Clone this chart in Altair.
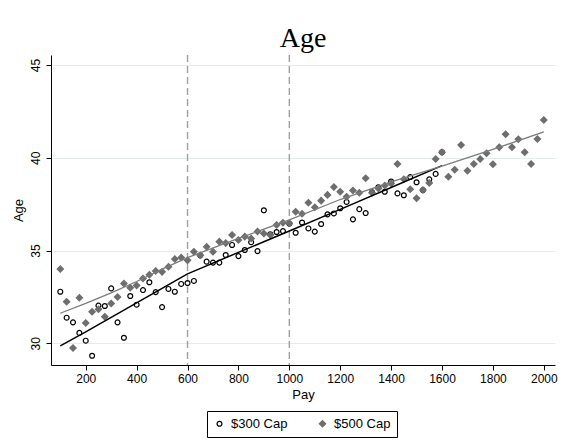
import altair as alt
import pandas as pd

# ---- data ----
series_names = ["$300 Cap", "$500 Cap"]

pay_300 = [100, 125, 150, 175, 200, 225, 250, 275, 300, 325, 350, 375, 400, 425, 450, 475,
           500, 525, 550, 575, 600, 625, 650, 675, 700, 725, 750, 775, 800, 825, 850, 875,
           900, 925, 950, 975, 1000, 1025, 1050, 1075, 1100, 1125, 1150, 1175, 1200, 1225,
           1250, 1275, 1300, 1325, 1350, 1375, 1400, 1425, 1450, 1475, 1500, 1525, 1550,
           1575, 1600]
age_300 = [32.78, 31.38, 31.13, 30.56, 30.14, 29.33, 32.03, 32.01, 32.96, 31.13, 30.30, 32.55,
           32.08, 32.87, 33.29, 32.76, 31.95, 32.93, 32.78, 33.20, 33.25, 33.36, 34.74, 34.40,
           34.35, 34.35, 34.76, 35.30, 34.70, 35.03, 35.45, 34.97, 37.17, 35.88, 36.00, 36.05,
           36.45, 35.96, 36.51, 36.19, 36.02, 36.43, 36.95, 37.00, 37.28, 37.62, 36.68, 37.23,
           37.02, 38.15, 38.41, 38.17, 38.72, 38.08, 37.98, 38.96, 38.68, 38.26, 38.84, 39.13,
           40.30]

pay_500 = [100, 125, 150, 175, 200, 225, 250, 275, 300, 325, 350, 375, 400, 425, 450, 475,
           500, 525, 550, 575, 600, 625, 650, 675, 700, 725, 750, 775, 800, 825, 850, 875,
           900, 925, 950, 975, 1000, 1025, 1050, 1075, 1100, 1125, 1150, 1175, 1200, 1225,
           1250, 1275, 1300, 1325, 1350, 1375, 1400, 1425, 1450, 1475, 1500, 1525, 1550,
           1575, 1600, 1625, 1650, 1675, 1700, 1725, 1750, 1775, 1800, 1825, 1850, 1875,
           1900, 1925, 1950, 1975, 2000]
age_500 = [34.00, 32.24, 29.75, 32.45, 31.10, 31.70, 31.83, 31.43, 32.15, 32.50, 33.22, 33.00,
           33.12, 33.49, 33.69, 33.90, 33.85, 34.12, 34.54, 34.62, 34.47, 34.94, 34.74, 35.20,
           34.93, 35.48, 35.40, 35.84, 35.57, 35.75, 35.65, 36.02, 35.92, 35.84, 36.38, 36.50,
           36.47, 37.09, 36.98, 37.58, 37.33, 37.69, 38.00, 38.42, 38.17, 37.90, 38.24, 38.12,
           38.90, 38.12, 38.35, 38.50, 38.62, 39.67, 38.84, 38.30, 37.82, 38.26, 38.64, 39.93,
           40.30, 38.98, 39.36, 40.69, 39.30, 39.67, 39.93, 40.24, 39.65, 40.57, 41.27, 40.57,
           41.00, 40.30, 39.67, 41.01, 42.04]

fit_pay_300 = [100, 200, 300, 400, 500, 600, 800, 1000, 1200, 1400, 1600]
fit_age_300 = [29.86, 30.62, 31.40, 32.18, 32.96, 33.74, 34.90, 36.05, 37.22, 38.40, 39.58]

fit_pay_500 = [100, 200, 300, 400, 500, 600, 800, 1000, 1200, 1400, 1600, 1800, 2000]
fit_age_500 = [31.62, 32.15, 32.72, 33.33, 34.00, 34.62, 35.65, 36.65, 37.75, 38.70, 39.55,
               40.45, 41.40]

cutoffs = [600, 1000]
x_ticks = [200, 400, 600, 800, 1000, 1200, 1400, 1600, 1800, 2000]
y_ticks = [30, 35, 40, 45]

# ---- tables ----
pts = pd.concat([
    pd.DataFrame({"pay": pay_300, "age": age_300, "series": series_names[0]}),
    pd.DataFrame({"pay": pay_500, "age": age_500, "series": series_names[1]}),
], ignore_index=True)
fit300 = pd.DataFrame({"pay": fit_pay_300, "age": fit_age_300})
fit500 = pd.DataFrame({"pay": fit_pay_500, "age": fit_age_500})
cut = pd.DataFrame({"pay": cutoffs})

FONT = "Liberation Sans"
GRAY = "#6e6e6e"

xscale = alt.Scale(domain=[63.5, 2044], nice=False, zero=False)
yscale = alt.Scale(domain=[28.83, 45.54], nice=False, zero=False)

xaxis = alt.Axis(values=x_ticks, format="d", title="Pay", grid=False, tickSize=5, labelPadding=3,
                 titlePadding=4, labelFontSize=12, titleFontSize=13, labelFont=FONT,
                 titleFont=FONT, titleFontWeight="normal", domainColor="black",
                 tickColor="black", labelColor="black", titleColor="black", labelFlush=False)
yaxis = alt.Axis(values=y_ticks, format="d", title="Age", grid=True, gridColor="#e4ecec", tickSize=5,
                 labelAngle=270, labelAlign="center", labelBaseline="bottom", labelPadding=4,
                 titlePadding=4, labelFontSize=12, titleFontSize=13, labelFont=FONT,
                 titleFont=FONT, titleFontWeight="normal", domainColor="black",
                 tickColor="black", labelColor="black", titleColor="black", labelFlush=False)

rules = alt.Chart(cut).mark_rule(color="#a0a0a0", strokeWidth=1.4, strokeDash=[7, 4]).encode(
    x=alt.X("pay:Q", scale=xscale, axis=xaxis)
)

points = alt.Chart(pts).mark_point(strokeWidth=1.2, opacity=1).encode(
    x=alt.X("pay:Q", scale=xscale, axis=xaxis),
    y=alt.Y("age:Q", scale=yscale, axis=yaxis),
    shape=alt.Shape("series:N", scale=alt.Scale(domain=series_names, range=["circle", "diamond"]),
                    legend=alt.Legend(title=None)),
    stroke=alt.Stroke("series:N", scale=alt.Scale(domain=series_names, range=["black", GRAY]),
                      legend=alt.Legend(title=None)),
    fill=alt.Fill("series:N", scale=alt.Scale(domain=series_names, range=["transparent", GRAY]),
                  legend=alt.Legend(title=None)),
    size=alt.Size("series:N", scale=alt.Scale(domain=series_names, range=[24, 40]),
                  legend=alt.Legend(title=None)),
)

line300 = alt.Chart(fit300).mark_line(color="black", strokeWidth=1.5).encode(
    x=alt.X("pay:Q", scale=xscale, axis=xaxis),
    y=alt.Y("age:Q", scale=yscale, axis=yaxis),
)
line500 = alt.Chart(fit500).mark_line(color="#7c7c7c", strokeWidth=1.3).encode(
    x=alt.X("pay:Q", scale=xscale, axis=xaxis),
    y=alt.Y("age:Q", scale=yscale, axis=yaxis),
)

chart = alt.layer(rules, points, line300, line500).properties(
    width=504, height=310,
    title=alt.TitleParams("Age", font="Liberation Serif", fontSize=28, fontWeight="normal",
                          color="black", anchor="middle", frame="group", offset=1),
    autosize=alt.AutoSizeParams(type="none"),
    padding={"left": 51, "top": 55, "right": 12, "bottom": 76},
    background="white",
).configure_view(stroke=None).configure_legend(
    orient="none", legendX=156, legendY=356, direction="horizontal",
    strokeColor="black", strokeWidth=1, fillColor="white", padding=6,
    labelFont=FONT, labelFontSize=13, labelColor="black", labelOffset=5,
    columnPadding=28, symbolStrokeWidth=1.2,
)

chart.save("out.html", embed_options={"renderer": "svg", "actions": False})
